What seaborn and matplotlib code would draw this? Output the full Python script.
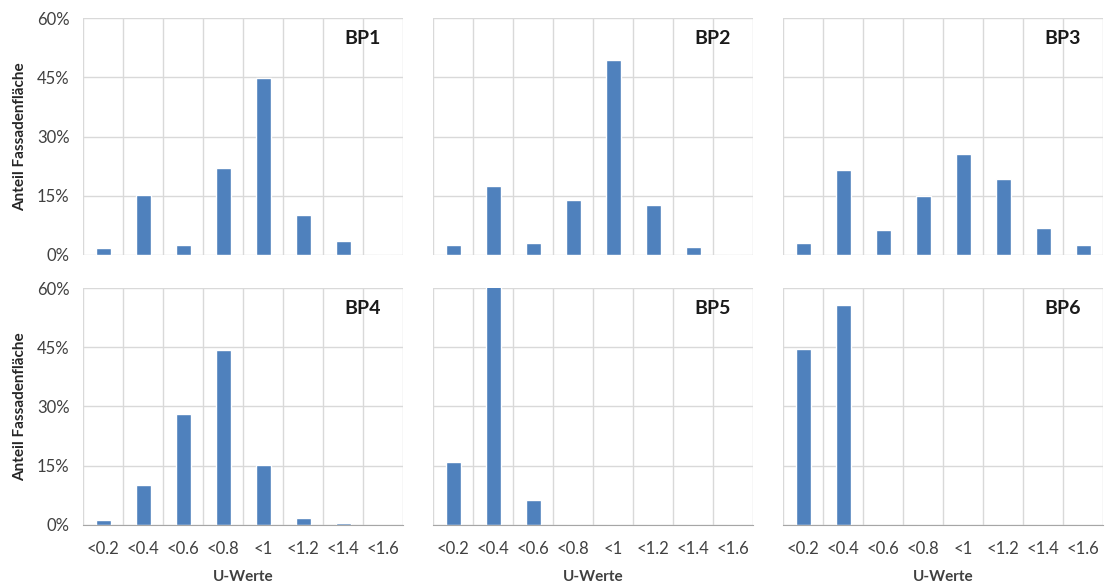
import numpy as np
import pandas as pd
import seaborn as sns
import matplotlib.pyplot as plt
from matplotlib.ticker import PercentFormatter, FixedLocator

# U-value classes and share of facade area (%) per building period
u_classes = ['<0.2', '<0.4', '<0.6', '<0.8', '<1', '<1.2', '<1.4', '<1.6']
panels = ['BP1', 'BP2', 'BP3', 'BP4', 'BP5', 'BP6']
bp1 = [1.7, 15.2, 2.6, 21.9, 44.8, 10.2, 3.6, 0.0]
bp2 = [2.6, 17.5, 2.9, 13.9, 49.5, 12.6, 1.9, 0.0]
bp3 = [2.9, 21.6, 6.2, 14.8, 25.6, 19.3, 6.9, 2.6]
bp4 = [1.1, 10.1, 28.0, 44.2, 15.2, 1.75, 0.4, 0.0]
bp5 = [15.8, 61.0, 6.2, 0.0, 0.0, 0.0, 0.0, 0.0]
bp6 = [44.6, 55.6, 0.0, 0.0, 0.0, 0.0, 0.0, 0.0]
y_ticks = [0, 15, 30, 45, 60]


def main():
    sns.set_style('white')
    plt.rcParams['font.family'] = ['Lato', 'DejaVu Sans']

    values = [bp1, bp2, bp3, bp4, bp5, bp6]
    df = pd.DataFrame({
        'panel': np.repeat(panels, len(u_classes)),
        'U-Werte': u_classes * len(panels),
        'Anteil': np.concatenate(values),
    })

    fig, axes = plt.subplots(2, 3, figsize=(11.12, 5.85), dpi=100)
    fig.subplots_adjust(left=0.075, right=0.992, top=0.969, bottom=0.103,
                        wspace=0.094, hspace=0.14)

    grid_c = '#d9d9d9'
    for i, (ax, name) in enumerate(zip(axes.flat, panels)):
        sub = df[df['panel'] == name]
        sns.barplot(data=sub, x='U-Werte', y='Anteil', order=u_classes,
                    color='#4f81bd', saturation=1, width=0.38, ax=ax)

        ax.set_xlim(-0.5, len(u_classes) - 0.5)
        ax.set_ylim(0, 60)
        ax.set_yticks(y_ticks)
        ax.yaxis.set_major_formatter(PercentFormatter(decimals=0))

        bounds = np.arange(len(u_classes) + 1) - 0.5
        ax.xaxis.set_minor_locator(FixedLocator(bounds))
        ax.grid(True, which='minor', axis='x', color=grid_c, lw=1)
        ax.grid(True, which='major', axis='y', color=grid_c, lw=1)
        ax.set_axisbelow(True)
        for s in ax.spines.values():
            s.set_visible(False)

        ax.tick_params(axis='both', which='major', length=0, labelsize=12,
                       colors='#404040')
        ax.tick_params(axis='y', pad=10)
        ax.tick_params(axis='x', pad=12)
        row, col = divmod(i, 3)
        if row == 1:
            ax.spines['bottom'].set_visible(True)
            ax.spines['bottom'].set_color('#a6a6a6')
            ax.tick_params(axis='x', which='minor', length=5,
                           color='#a6a6a6', direction='out')
            ax.set_xlabel('U-Werte', fontsize=11, fontweight='bold',
                          color='#404040', labelpad=9)
        else:
            ax.tick_params(axis='x', which='both', length=0,
                           labelbottom=False)
            ax.set_xlabel('')

        if col == 0:
            ax.set_ylabel('Anteil Fassadenfläche', fontsize=11,
                          fontweight='bold', color='#262626', labelpad=7)
        else:
            ax.set_ylabel('')
            ax.tick_params(axis='y', labelleft=False)

        ax.text(0.93, 0.95, name, transform=ax.transAxes, ha='right',
                va='top', fontsize=14, fontweight='bold', color='#1a1a1a')

    plt.savefig('out.png', dpi=100)


if __name__ == '__main__':
    main()
